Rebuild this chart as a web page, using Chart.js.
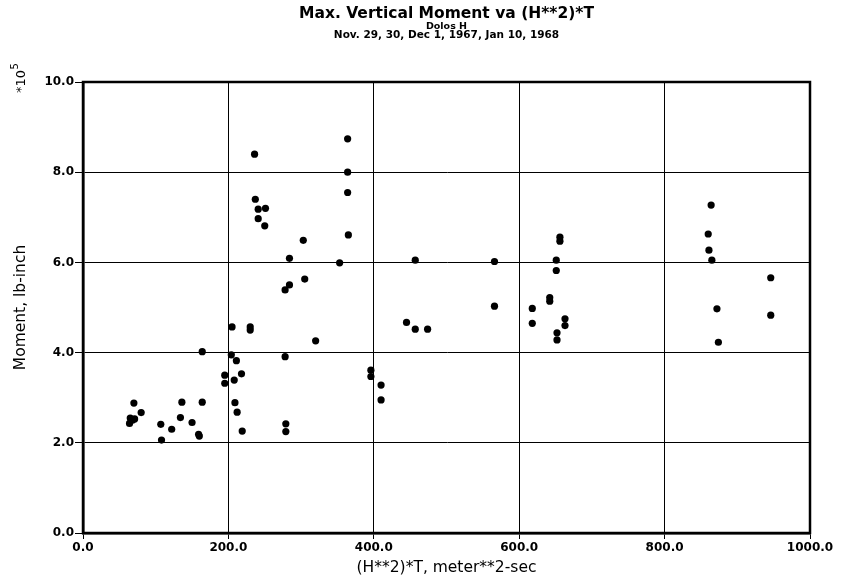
<!DOCTYPE html>
<html>
<head>
<meta charset="utf-8">
<script src="https://cdn.jsdelivr.net/npm/chart.js@4"></script>
<style>
  html, body { margin: 0; padding: 0; background: #fff; }
  #wrap { width: 841px; height: 581px; }
</style>
</head>
<body>
<div id="wrap"><canvas id="c"></canvas></div>
<script>
const FONT = '"DejaVu Sans", Arial, sans-serif';
Chart.defaults.color = '#000';
Chart.defaults.font.family = FONT;

const TITLE = 'Max. Vertical Moment va (H**2)*T';
const SUBTITLE = 'Dolos H';
const DATES = 'Nov. 29, 30, Dec 1, 1967, Jan 10, 1968';
const X_LABEL = '(H**2)*T, meter**2-sec';
const Y_LABEL = 'Moment, lb-inch';

// (H**2)*T, meter**2-sec
const h2t = [
  64, 65, 68, 71, 70, 80,
  107, 108, 122, 134, 136, 150, 159, 160, 164,
  195, 195, 208, 209, 212, 219, 218, 204, 211, 164, 205, 230, 230,
  279, 279, 278, 278, 284, 284, 303, 305, 320, 353,
  236, 237, 241, 251, 241, 250,
  364, 364, 364, 365,
  396, 396, 410, 410,
  445, 457, 474, 457,
  566, 566,
  618, 618, 642, 642, 656, 656, 651, 651, 663, 663, 652, 652,
  864, 860, 861, 865, 872, 874, 946, 946
];

// moment, *10^5 lb-inch
const moment = [
  2.43, 2.55, 2.50, 2.53, 2.88, 2.67,
  2.41, 2.06, 2.30, 2.56, 2.90, 2.45, 2.19, 2.15, 2.90,
  3.32, 3.50, 3.39, 2.89, 2.68, 2.26, 3.53, 3.95, 3.82, 4.02, 4.57, 4.57, 4.50,
  2.42, 2.25, 3.91, 5.39, 5.50, 6.09, 6.49, 5.63, 4.26, 5.99,
  8.40, 7.40, 7.18, 7.20, 6.97, 6.81,
  8.74, 8.00, 7.55, 6.61,
  3.61, 3.47, 3.28, 2.95,
  4.67, 4.52, 4.52, 6.05,
  6.02, 5.03,
  4.98, 4.65, 5.22, 5.14, 6.56, 6.47, 6.05, 5.82, 4.75, 4.60, 4.44, 4.28,
  7.27, 6.63, 6.27, 6.05, 4.97, 4.23, 5.66, 4.83
];

const points = h2t.map((x, i) => ({ x: x, y: moment[i] }));

// frame round the plot, date line and the *10^5 multiplier
const framePlugin = {
  id: 'frame',
  afterDatasetsDraw(chart) {
    const { ctx, chartArea: a } = chart;
    ctx.save();
    ctx.strokeStyle = '#000';
    ctx.lineWidth = 2.5;
    ctx.strokeRect(a.left, a.top, a.right - a.left, a.bottom - a.top);
    ctx.restore();
  },
  afterDraw(chart) {
    const { ctx, chartArea: a } = chart;
    ctx.save();
    ctx.fillStyle = '#000';
    ctx.font = 'bold 10.5px ' + FONT;
    ctx.textAlign = 'center';
    ctx.textBaseline = 'middle';
    ctx.fillText(DATES, (a.left + a.right) / 2, 35.5);

    ctx.translate(25, 93);
    ctx.rotate(-Math.PI / 2);
    ctx.textAlign = 'left';
    ctx.textBaseline = 'alphabetic';
    ctx.font = '13px ' + FONT;
    ctx.fillText('*10', 0, 0);
    const w = ctx.measureText('*10').width;
    ctx.font = '10px ' + FONT;
    ctx.fillText('5', w + 0.5, -7);
    ctx.restore();
  }
};

new Chart(document.getElementById('c'), {
  type: 'scatter',
  data: {
    datasets: [{
      label: 'Moment',
      data: points,
      backgroundColor: '#000',
      borderWidth: 0,
      pointRadius: 3.6,
      pointHoverRadius: 3.6
    }]
  },
  options: {
    responsive: true,
    maintainAspectRatio: false,
    animation: false,
    layout: { padding: { left: 0, right: 31, top: 0, bottom: 0 } },
    plugins: {
      legend: { display: false },
      tooltip: { enabled: false },
      title: {
        display: true,
        text: TITLE,
        fullSize: false,
        font: { size: 15.5, weight: 'bold', lineHeight: 1 },
        padding: { top: 6, bottom: 0 }
      },
      subtitle: {
        display: true,
        text: SUBTITLE,
        fullSize: false,
        font: { size: 9.5, weight: 'bold', lineHeight: 1 },
        padding: { top: 0, bottom: 51 }
      }
    },
    scales: {
      x: {
        type: 'linear',
        min: 0,
        max: 1000,
        afterFit(scale) { scale.height = 48; },
        ticks: {
          stepSize: 200,
          padding: 2,
          font: { size: 12, weight: 'bold' },
          callback: v => v.toFixed(1)
        },
        grid: { color: '#000', lineWidth: 1, tickLength: 6 },
        border: { color: '#000', width: 2.5 },
        title: {
          display: true,
          text: X_LABEL,
          font: { size: 15.5 },
          padding: { top: 0, bottom: 4 }
        }
      },
      y: {
        type: 'linear',
        min: 0,
        max: 10,
        afterFit(scale) { scale.width = 83; },
        ticks: {
          stepSize: 2,
          padding: 1,
          font: { size: 12, weight: 'bold' },
          callback: v => v.toFixed(1)
        },
        grid: { color: '#000', lineWidth: 1, tickLength: 8 },
        border: { color: '#000', width: 2.5 },
        title: {
          display: true,
          text: Y_LABEL,
          font: { size: 15.5 },
          padding: { top: 12, bottom: 0 }
        }
      }
    }
  },
  plugins: [framePlugin]
});
</script>
</body>
</html>
